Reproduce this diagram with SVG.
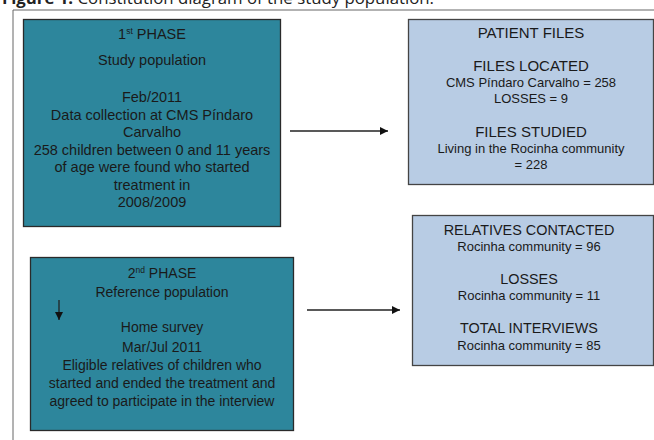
<svg xmlns="http://www.w3.org/2000/svg" width="654" height="440" viewBox="0 0 654 440">
<defs>
<style>
.t{font-family:"Liberation Sans",Arial,sans-serif;fill:#1a1a1a;text-anchor:middle}
.s{font-size:14.5px}
.s2{font-size:14px}
.h{font-size:15px}
.h2{font-size:14.4px}
.d{font-size:13px}
.teal{fill:#2d869c;stroke:#2a2a2a;stroke-width:1.3}
.blue{fill:#b8cce4;stroke:#444;stroke-width:1.3}
.c{stroke:#222;stroke-width:1.3;fill:none}
</style>
<marker id="ah" viewBox="0 0 10 10" refX="10" refY="5" markerWidth="8" markerHeight="8" markerUnits="userSpaceOnUse" orient="auto"><path d="M0,0 L10,5 L0,10 z" fill="#111"/></marker>
</defs>
<rect width="654" height="440" fill="#fff"/>
<text x="2" y="4" font-family="'Open Sans',sans-serif" font-size="16" fill="#222" textLength="432" lengthAdjust="spacingAndGlyphs"><tspan font-weight="bold">Figure 1.</tspan> Constitution diagram of the study population.</text>
<path d="M13,441 L13,10 L655,10" fill="none" stroke="#666" stroke-width="1"/>
<g id="phase1">
<rect class="teal" x="23.5" y="19.5" width="257" height="207"/>
<text class="t s" x="152" y="39">1<tspan font-size="8.5" dy="-5">st</tspan><tspan dy="5"> PHASE</tspan></text>
<text class="t s" x="152" y="65">Study population</text>
<text class="t s" x="152" y="102">Feb/2011</text>
<text class="t s" x="152" y="119.5">Data collection at CMS Píndaro</text>
<text class="t s" x="152" y="137">Carvalho</text>
<text class="t s" x="152" y="154.5">258 children between 0 and 11 years</text>
<text class="t s" x="152" y="172">of age were found who started</text>
<text class="t s" x="152" y="189.5">treatment in</text>
<text class="t s" x="152" y="207">2008/2009</text>
</g>
<g id="patientfiles">
<rect class="blue" x="408.5" y="19.5" width="245" height="165"/>
<text class="t h" x="531" y="38">PATIENT FILES</text>
<text class="t h" x="531" y="71">FILES LOCATED</text>
<text class="t d" x="531" y="87">CMS Píndaro Carvalho = 258</text>
<text class="t d" x="531" y="103">LOSSES = 9</text>
<text class="t h" x="531" y="137">FILES STUDIED</text>
<text class="t d" x="531" y="152.5">Living in the Rocinha community</text>
<text class="t d" x="531" y="168.5">= 228</text>
</g>
<g id="phase2">
<rect class="teal" x="30.5" y="257.5" width="263" height="173"/>
<text class="t s2" x="162" y="278">2<tspan font-size="8.5" dy="-5">nd</tspan><tspan dy="5"> PHASE</tspan></text>
<text class="t s2" x="162" y="297">Reference population</text>
<text class="t s2" x="162" y="332">Home survey</text>
<text class="t s2" x="162" y="352">Mar/Jul 2011</text>
<text class="t s2" x="162" y="370">Eligible relatives of children who</text>
<text class="t s2" x="162" y="388">started and ended the treatment and</text>
<text class="t s2" x="162" y="405.5">agreed to participate in the interview</text>
</g>
<g id="relatives">
<rect class="blue" x="412.5" y="215.5" width="241" height="150"/>
<text class="t h2" x="529" y="235">RELATIVES CONTACTED</text>
<text class="t d" x="529" y="251">Rocinha community = 96</text>
<text class="t h2" x="529" y="284">LOSSES</text>
<text class="t d" x="529" y="300">Rocinha community = 11</text>
<text class="t h2" x="529" y="333">TOTAL INTERVIEWS</text>
<text class="t d" x="529" y="350">Rocinha community = 85</text>
</g>
<g id="connectors">
<line class="c" x1="290" y1="131" x2="388" y2="131" marker-end="url(#ah)"/>
<line class="c" x1="307" y1="310" x2="400" y2="310" marker-end="url(#ah)"/>
<line class="c" x1="59" y1="300" x2="59" y2="320" marker-end="url(#ah)"/>
</g>
</svg>
